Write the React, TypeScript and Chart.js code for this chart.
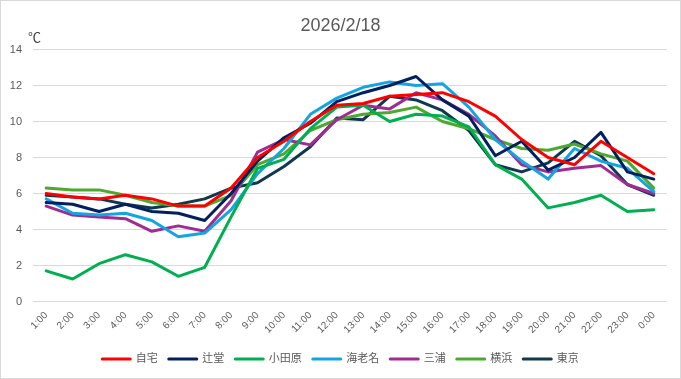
import React, { useEffect, useRef } from 'react';
import { Chart, registerables } from 'chart.js';

Chart.register(...registerables);

const hours = ['1:00', '2:00', '3:00', '4:00', '5:00', '6:00', '7:00', '8:00', '9:00', '10:00', '11:00', '12:00', '13:00', '14:00', '15:00', '16:00', '17:00', '18:00', '19:00', '20:00', '21:00', '22:00', '23:00', '0:00'];

const jitaku = [6.0, 5.8, 5.7, 5.9, 5.7, 5.3, 5.3, 6.3, 8.0, 8.9, 10.0, 10.9, 11.0, 11.4, 11.5, 11.6, 11.1, 10.3, 9.0, 8.0, 7.6, 8.9, 8.0, 7.1];
const tsujido = [5.5, 5.4, 5.0, 5.4, 5.0, 4.9, 4.5, 6.0, 7.8, 9.1, 9.9, 11.1, 11.6, 12.0, 12.5, 11.2, 10.3, 8.1, 8.9, 7.3, 8.0, 9.4, 7.2, 6.8];
const odawara = [1.7, 1.25, 2.1, 2.6, 2.2, 1.4, 1.9, 4.7, 7.4, 7.9, 9.6, 10.8, 10.9, 10.0, 10.4, 10.3, 9.7, 7.6, 6.8, 5.2, 5.5, 5.9, 5.0, 5.1];
const ebina = [5.7, 4.9, 4.8, 4.9, 4.5, 3.6, 3.8, 5.1, 7.1, 8.5, 10.4, 11.3, 11.9, 12.2, 12.0, 12.1, 10.8, 9.0, 7.8, 6.8, 8.5, 7.8, 7.4, 6.1];
const miura = [5.3, 4.8, 4.7, 4.6, 3.9, 4.2, 3.9, 5.6, 8.3, 9.0, 8.7, 10.1, 10.9, 10.7, 11.6, 11.2, 10.4, 9.2, 7.6, 7.2, 7.4, 7.55, 6.5, 6.0];
const yokohama = [6.3, 6.2, 6.2, 5.9, 5.5, 5.3, 5.3, 5.9, 7.6, 8.2, 9.5, 10.1, 10.4, 10.5, 10.8, 10.0, 9.6, 9.0, 8.5, 8.4, 8.75, 8.2, 7.8, 6.3];
const tokyo = [5.9, 5.8, 5.7, 5.4, 5.2, 5.4, 5.7, 6.3, 6.6, 7.5, 8.6, 10.2, 10.1, 11.4, 11.2, 10.6, 9.5, 7.6, 7.2, 7.7, 8.9, 8.1, 6.5, 5.9];

const seriesNames = ['自宅', '辻堂', '小田原', '海老名', '三浦', '横浜', '東京'];
const seriesValues = [jitaku, tsujido, odawara, ebina, miura, yokohama, tokyo];
const seriesColors = ['#FF0000', '#002060', '#00B050', '#14A5E0', '#A02B93', '#4EA72E', '#10384F'];

const titleText = '2026/2/18';
const unitText = '℃';
const yMin = 0;
const yMax = 14;
const yStep = 2;

const FONT = "'Liberation Sans', 'Noto Sans CJK JP', sans-serif";
const TEXT_COLOR = '#595959';

const framePlugin = {
  id: 'frame',
  beforeDraw(chart: any) {
    const ctx = chart.ctx;
    ctx.save();
    ctx.fillStyle = '#ffffff';
    ctx.fillRect(0, 0, chart.width, chart.height);
    ctx.restore();
  },
  afterDraw(chart: any) {
    const ctx = chart.ctx;
    ctx.save();
    ctx.strokeStyle = '#d9d9d9';
    ctx.lineWidth = 1;
    ctx.strokeRect(0.5, 0.5, chart.width - 1, chart.height - 1);
    ctx.fillStyle = '#404040';
    ctx.font = "13px 'Noto Sans CJK JP', sans-serif";
    ctx.textBaseline = 'middle';
    ctx.textAlign = 'left';
    ctx.fillText(unitText, 28, 37);
    ctx.restore();
  },
};

export default function App() {
  const ref = useRef<HTMLCanvasElement>(null);

  useEffect(() => {
    const prevMargin = document.body.style.margin;
    document.body.style.margin = '0';
    const chart = new Chart(ref.current as HTMLCanvasElement, {
      type: 'line',
      data: {
        labels: hours,
        datasets: seriesValues.map((d, i) => ({
          label: seriesNames[i],
          data: d,
          borderColor: seriesColors[i],
          backgroundColor: seriesColors[i],
          borderWidth: 3,
          pointRadius: 0,
          pointHoverRadius: 0,
          tension: 0,
          borderJoinStyle: 'round',
          borderCapStyle: 'round',
          yAxisID: 'y',
        })),
      },
      options: {
        responsive: false,
        animation: false,
        devicePixelRatio: 1,
        layout: { padding: { left: 0, right: 0, top: 0, bottom: 4.5 } },
        plugins: {
          title: {
            display: true,
            text: titleText,
            color: TEXT_COLOR,
            font: { size: 18, family: FONT, weight: 'normal' },
            padding: { top: 15.2, bottom: 12.7 },
          },
          legend: {
            position: 'bottom',
            labels: {
              boxWidth: 28,
              boxHeight: 0,
              padding: 11,
              color: TEXT_COLOR,
              font: { size: 11, family: FONT },
            },
          },
          tooltip: { enabled: false },
        },
        scales: {
          x: {
            type: 'category',
            offset: true,
            grid: { display: false, drawTicks: false },
            border: { display: false },
            ticks: {
              color: TEXT_COLOR,
              font: { size: 10, family: FONT },
              minRotation: 45,
              maxRotation: 45,
              autoSkip: false,
              padding: 8,
            },
            afterFit: (s: any) => { s.height = 41; },
          },
          y: {
            type: 'linear',
            position: 'left',
            min: yMin,
            max: yMax,
            ticks: { stepSize: yStep, color: TEXT_COLOR, font: { size: 11, family: FONT }, padding: 11 },
            grid: { color: '#d9d9d9', drawTicks: false, lineWidth: 1 },
            border: { display: false },
            afterFit: (s: any) => { s.width = 33; },
          },
          yRight: {
            type: 'linear',
            position: 'right',
            display: true,
            grid: { display: false, drawTicks: false },
            ticks: { display: false },
            border: { display: false },
            afterFit: (s: any) => { s.width = 14; },
          },
        },
      } as any,
      plugins: [framePlugin],
    });
    return () => {
      chart.destroy();
      document.body.style.margin = prevMargin;
    };
  }, []);

  return <canvas ref={ref} width={681} height={379} style={{ display: 'block' }} />;
}
